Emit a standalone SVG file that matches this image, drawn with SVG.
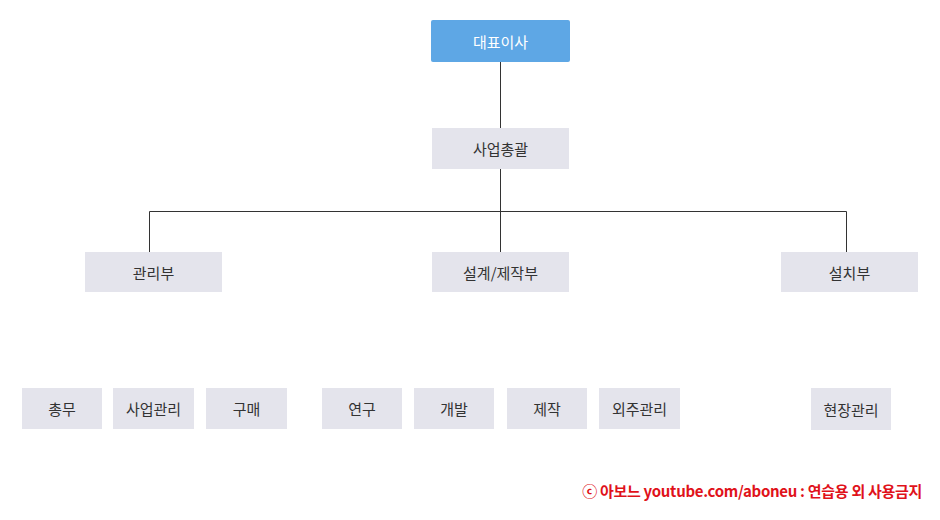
<svg xmlns="http://www.w3.org/2000/svg" width="940" height="520" viewBox="0 0 940 520">
<style>
.box{fill:#e4e4ec}
.top{fill:#5ea7e5}
.t{font-family:"Noto Sans CJK KR","Noto Sans",sans-serif;font-size:15px;fill:#333;text-anchor:middle;dominant-baseline:central}
.tw{fill:#fff}
.ln{stroke:#333;stroke-width:1;fill:none}
.wm{font-family:"Noto Sans CJK KR","Noto Sans",sans-serif;font-size:15px;font-weight:bold;fill:#e0121a;text-anchor:end;letter-spacing:-0.3px}
</style>
<rect width="940" height="520" fill="#fff"/>
<g id="connectors">
<path class="ln" d="M500.5 62V128M500.5 169V211.5M149.5 211.5H846.5M149.5 211.5V252M500.5 211.5V252M846.5 211.5V252"/>
</g>
<g id="n-ceo"><rect class="top" x="431" y="20" width="139" height="42" rx="2"/><text class="t tw" x="500.5" y="41">대표이사</text></g>
<g id="n-gm"><rect class="box" x="432" y="128" width="137" height="41"/><text class="t" x="500.5" y="148.5">사업총괄</text></g>
<g id="n-admin"><rect class="box" x="85" y="252" width="137" height="40"/><text class="t" x="153.5" y="272">관리부</text></g>
<g id="n-design"><rect class="box" x="432" y="252" width="137" height="40"/><text class="t" x="500.5" y="272">설계/제작부</text></g>
<g id="n-install"><rect class="box" x="781" y="252" width="137" height="40"/><text class="t" x="849.5" y="272">설치부</text></g>
<g id="n-ga"><rect class="box" x="22" y="388" width="80" height="41"/><text class="t" x="62" y="408.5">총무</text></g>
<g id="n-bm"><rect class="box" x="113" y="388" width="81" height="41"/><text class="t" x="153.5" y="408.5">사업관리</text></g>
<g id="n-buy"><rect class="box" x="206" y="388" width="81" height="41"/><text class="t" x="246.5" y="408.5">구매</text></g>
<g id="n-rnd"><rect class="box" x="322" y="388" width="80" height="41"/><text class="t" x="362" y="408.5">연구</text></g>
<g id="n-dev"><rect class="box" x="414" y="388" width="80" height="41"/><text class="t" x="454" y="408.5">개발</text></g>
<g id="n-mfg"><rect class="box" x="507" y="388" width="80" height="41"/><text class="t" x="547" y="408.5">제작</text></g>
<g id="n-out"><rect class="box" x="599" y="388" width="81" height="41"/><text class="t" x="639.5" y="408.5">외주관리</text></g>
<g id="n-site"><rect class="box" x="811" y="388" width="80" height="42"/><text class="t" x="851" y="409">현장관리</text></g>
<text class="wm" x="922" y="497">ⓒ 아보느 youtube.com/aboneu : 연습용 외 사용금지</text>
</svg>
